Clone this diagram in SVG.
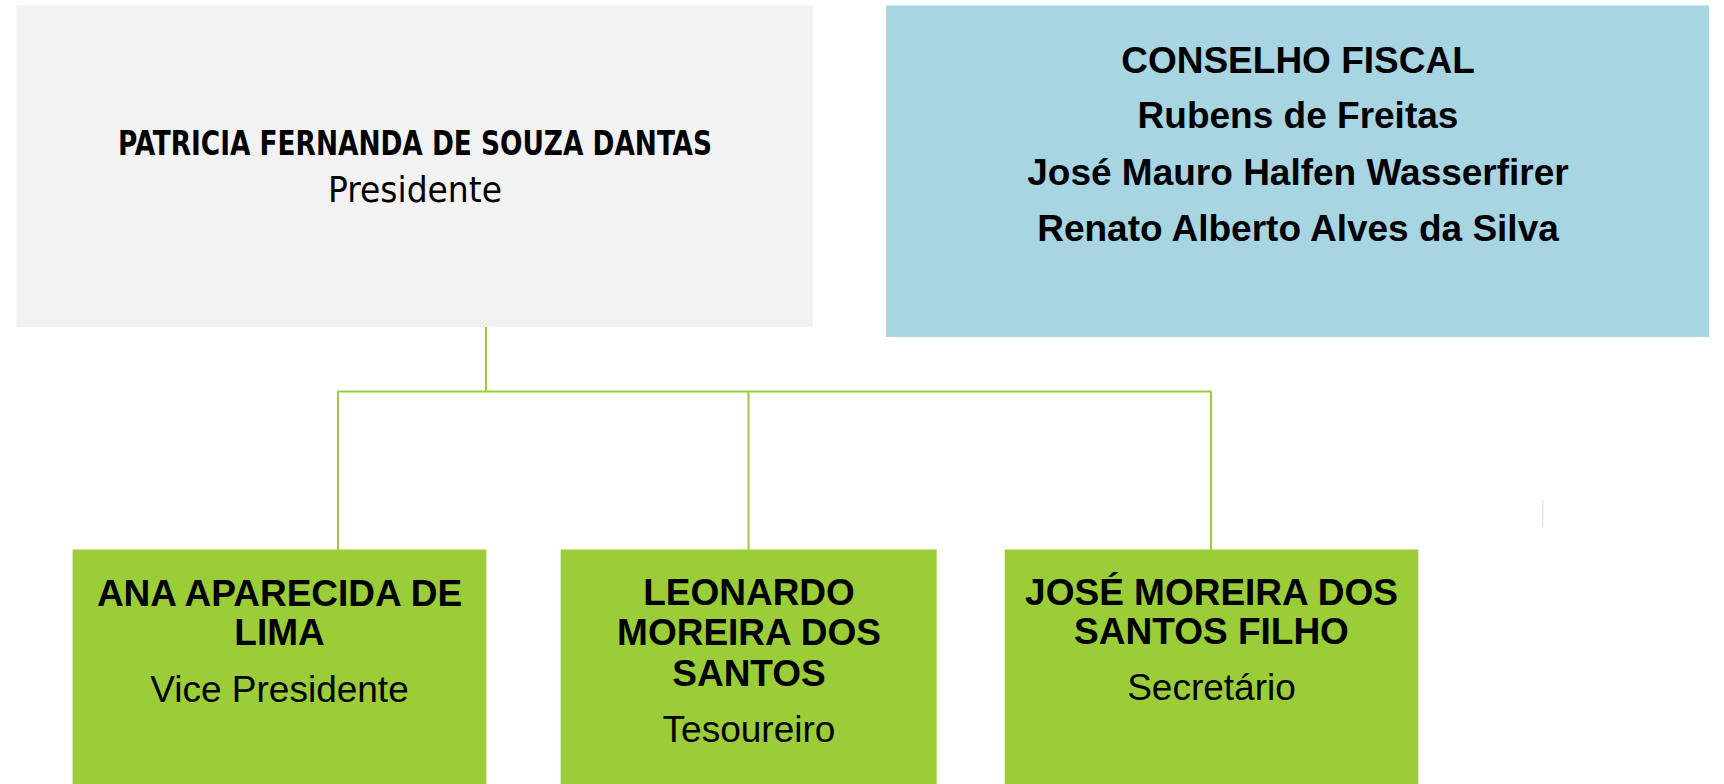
<svg xmlns="http://www.w3.org/2000/svg" width="1724" height="784" viewBox="0 0 1724 784">
<style>
.bg{fill:#ffffff}
.gray{fill:#f2f2f2}
.blue{fill:#a8d5e2}
.green{fill:#9acd38}
.conn{stroke:#9acd38;stroke-width:2;fill:none}
.t{font-family:"Liberation Sans",Arial,sans-serif;fill:#000;text-anchor:middle;font-size:37px}
.b{font-weight:bold}
.fut{font-family:"Liberation Sans Narrow","DejaVu Sans Condensed","Liberation Sans",sans-serif;fill:#000;text-anchor:middle}
</style>
<rect class="bg" x="0" y="0" width="1724" height="784"/>
<g id="connectors">
<line class="conn" x1="486" y1="327" x2="486" y2="391.5"/>
<line class="conn" x1="337.5" y1="391.5" x2="1211.5" y2="391.5"/>
<line class="conn" x1="338" y1="391.5" x2="338" y2="550"/>
<line class="conn" x1="748.5" y1="391.5" x2="748.5" y2="550"/>
<line class="conn" x1="1211" y1="391.5" x2="1211" y2="550"/>
</g>
<g id="presidente">
<rect class="gray" x="16.5" y="5.5" width="796.5" height="321.5"/>
<text class="fut" x="415" y="155" font-size="34" font-weight="bold" textLength="594" lengthAdjust="spacingAndGlyphs">PATRICIA FERNANDA DE SOUZA DANTAS</text>
<text class="fut" x="415" y="201.5" font-size="35" textLength="174" lengthAdjust="spacingAndGlyphs">Presidente</text>
</g>
<g id="conselho-fiscal">
<rect class="blue" x="886" y="5.5" width="823" height="331.5"/>
<text class="t b" x="1298" y="72.6">CONSELHO FISCAL</text>
<text class="t b" x="1298" y="128.3">Rubens de Freitas</text>
<text class="t b" x="1298" y="185">José Mauro Halfen Wasserfirer</text>
<text class="t b" x="1298" y="240.7">Renato Alberto Alves da Silva</text>
</g>
<g id="vice-presidente">
<rect class="green" x="72.6" y="549.5" width="413.8" height="234.5"/>
<text class="t b" x="279.5" y="605.5">ANA APARECIDA DE</text>
<text class="t b" x="279.5" y="645.3">LIMA</text>
<text class="t" x="279.5" y="701.7">Vice Presidente</text>
</g>
<g id="tesoureiro">
<rect class="green" x="560.7" y="549.5" width="376" height="234.5"/>
<text class="t b" x="749" y="605">LEONARDO</text>
<text class="t b" x="749" y="645">MOREIRA DOS</text>
<text class="t b" x="749" y="685.5">SANTOS</text>
<text class="t" x="749" y="741.7">Tesoureiro</text>
</g>
<g id="secretario">
<rect class="green" x="1004.7" y="549.5" width="413.6" height="234.5"/>
<text class="t b" x="1211.5" y="605">JOSÉ MOREIRA DOS</text>
<text class="t b" x="1211.5" y="644.3">SANTOS FILHO</text>
<text class="t" x="1211.5" y="700">Secretário</text>
</g>
<line x1="1542.7" y1="500" x2="1542.7" y2="526" stroke="#e4e4e4" stroke-width="1.5"/>
</svg>
